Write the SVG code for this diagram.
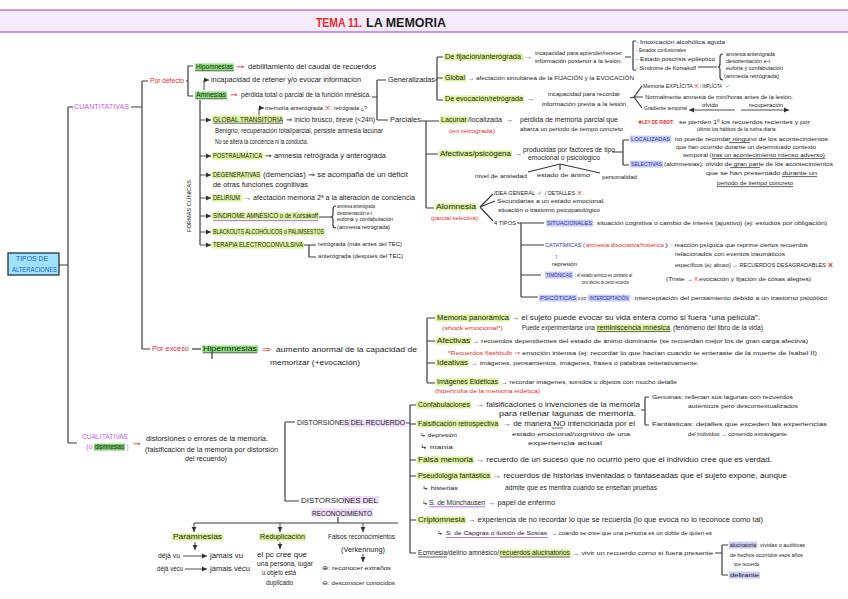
<svg xmlns="http://www.w3.org/2000/svg" width="848" height="599" viewBox="0 0 848 599">
<defs>
<marker id="ah" markerWidth="6" markerHeight="6" refX="5" refY="3" orient="auto" markerUnits="userSpaceOnUse"><path d="M0,0.6 L5,3 L0,5.4 Z" fill="#333"/></marker>
<style>
text{font-family:"Liberation Sans",Arial,sans-serif;font-size:6.5px;fill:#1b1b1b}
.sm{font-size:5.5px}
.xs{font-size:5px}
.md{font-size:7px}
.lg{font-size:8px}
.r{fill:#e62a2a}
.p{fill:#c25ef3}
.b{fill:#2a36a6}
.bl{fill:#2d5bd6}
.gr{fill:#2fae3a}
.ln{stroke:#3a3a3a;stroke-width:1.2;fill:none}
.ar{stroke:#3a3a3a;stroke-width:0.9;fill:none;marker-end:url(#ah)}
.hy{fill:#dcf59c}
.hg{fill:#8ee27d}
.hb{fill:#c8ccf6}
.hp{fill:#ecdaf8}
.ul{stroke:#222;stroke-width:0.7}
.up{stroke:#b36ef0;stroke-width:1}
</style>
</defs>
<rect x="0" y="0" width="848" height="599" fill="#ffffff"/>

<g id="connectors">
<path class="ln" d="M59 265H68M68 107V443M68 107H73M68 443H77"/>
<path class="ln" d="M131 107H142M142 81V349M142 81H148M142 349H150"/>
<path class="ln" d="M186 81H188M188 66V96M188 66H193M188 96H193"/>
<path class="ln" d="M192 349H201"/>
<path class="ln" d="M200 100V245"/>
<path class="ar" d="M200 120H211"/>
<path class="ar" d="M200 156H211"/>
<path class="ar" d="M200 175H211"/>
<path class="ar" d="M200 198H211"/>
<path class="ar" d="M200 216H211"/>
<path class="ar" d="M200 232H211"/>
<path class="ar" d="M200 245H211"/>
<path class="ar" d="M204 90V80H209"/>
<path class="ar" d="M259 116V108H264"/>
<path class="ln" d="M372 97H377M377 80V120M377 80H386M377 120H388"/>
<path class="ln" d="M435 80H437M437 57V100M437 57H443M437 78H443M437 100H443"/>
<path class="ln" d="M421 121H426M426 121V208M426 121H439M426 154H438M426 208H434"/>
<path class="ln" d="M625 57H631M633 41V70M633 41H636M633 70H636"/>
<path class="ln" d="M698 67H717M723 54Q720 54 720 57V64Q720 67 718 67Q720 67 720 70V77Q720 80 723 80"/>
<path class="ln" d="M630 98L634 97M634 97L642 86M634 97H643M634 97L642 108"/>
<path class="ar" d="M735 110H689"/>
<path class="ar" d="M741 110H789"/>
<path class="ln" d="M560 164L528 172M560 164V170M560 164L600 173"/>
<path class="ln" d="M612 152H623M623 140V165M623 140H629M623 165H629"/>
<path class="ln" d="M480 207L493 194M480 207L495 201M480 207L493 221"/>
<path class="ln" d="M517 223H544M521 223V297M521 245H544M521 275H541M521 297H538"/>
<path class="ln" d="M319 217H331M336 206Q333 206 333 209V214Q333 217 331 217Q333 217 333 220V225Q333 228 336 228"/>
<path class="ln" d="M304 245H316M309 245V257H316"/>
<path class="ln" d="M212 353V359"/>
<path class="ln" d="M427 318V383M427 318H435M427 341H435M427 363H435M427 383H435"/>
<path class="ln" d="M285 422V501M285 422H295M285 501H299"/>
<path class="ln" d="M405 423H410M410 405V553M410 405H416M410 424H416M410 460H416M410 476H416M410 520H416M410 553H416"/>
<path class="ln" d="M641 410H645M645 397V425M645 397H649M645 425H649"/>
<path class="ln" d="M715 553H722M722 545V575M722 545H728M722 575H728"/>
<path class="ln" d="M338 517V523M194 523H398"/>
<path class="ar" d="M194 523V532"/>
<path class="ar" d="M280 523V532"/>
<path class="ar" d="M363 523V532"/>
<path class="ar" d="M195 542V550"/>
<path class="ar" d="M280 542V549"/>
<path class="ar" d="M363 554V562"/>
<path class="ar" d="M183 556H207"/>
<path class="ar" d="M185 569H207"/>
</g>

<g id="title">
<rect x="0" y="10" width="848" height="22" fill="#f4ecfd"/>
<line x1="0" y1="10" x2="848" y2="10" stroke="#b774f2" stroke-width="1.6"/>
<line x1="0" y1="32" x2="848" y2="32" stroke="#b774f2" stroke-width="1.6"/>
<text x="316" y="27" class="r" style="font-size:13px;font-weight:bold" textLength="46" lengthAdjust="spacingAndGlyphs">TEMA 11.</text>
<text x="366" y="27" style="font-size:13px;font-weight:bold" textLength="80" lengthAdjust="spacingAndGlyphs">LA MEMORIA</text>
</g>

<g id="n-root">
<rect x="8" y="253" width="51" height="22" fill="#9fe2fd" stroke="#222" stroke-width="1.2"/>
<text x="16" y="261.4" class="bl" textLength="32" lengthAdjust="spacingAndGlyphs">TIPOS DE</text>
<text x="12" y="272.2" class="bl" textLength="45" lengthAdjust="spacingAndGlyphs">ALTERACIONES</text>
</g>

<g id="n-cuantitativas"><text x="74" y="109.2" class="p" textLength="55" lengthAdjust="spacingAndGlyphs">CUANTITATIVAS</text></g>
<g id="n-pordefecto"><text x="150" y="83.2" class="r" textLength="34" lengthAdjust="spacingAndGlyphs">Por defecto</text></g>
<g id="n-porexceso"><text x="152" y="351.2" class="r" textLength="37" lengthAdjust="spacingAndGlyphs">Por exceso</text></g>

<g id="n-hipomnesias">
<rect x="195" y="63.4" width="39" height="7.2" class="hg"/>
<line x1="195" y1="70.8" x2="234" y2="70.8" class="ul"/>
<text x="196" y="69.2" textLength="37" lengthAdjust="spacingAndGlyphs">Hipomnesias</text>
<text x="236" y="69.2" class="r" textLength="9" lengthAdjust="spacingAndGlyphs">⇒</text>
<text x="248" y="69.2" textLength="128" lengthAdjust="spacingAndGlyphs">debilitamiento del caudal de recuerdos</text>
</g>

<g id="n-amnesias">
<text x="211" y="82.2" textLength="150" lengthAdjust="spacingAndGlyphs">incapacidad de retener y/o evocar información</text>
<rect x="195" y="91.4" width="32" height="7.2" class="hg"/>
<line x1="195" y1="98.8" x2="227" y2="98.8" class="ul"/>
<text x="196" y="97.2" textLength="30" lengthAdjust="spacingAndGlyphs">Amnesias</text>
<text x="230" y="97.2" class="r" textLength="8" lengthAdjust="spacingAndGlyphs">⇒</text>
<text x="241" y="97.2" textLength="130" lengthAdjust="spacingAndGlyphs">pérdida total o parcial de la función mnésica.</text>
</g>

<g id="n-formas"><text x="189" y="208" transform="rotate(-90 189 206)" text-anchor="middle" class="sm" textLength="52" lengthAdjust="spacingAndGlyphs">FORMAS CLÍNICAS</text></g>

<g id="n-global-transitoria">
<text x="265" y="110.2" class="sm" textLength="58" lengthAdjust="spacingAndGlyphs">memoria anterógrada</text>
<text x="325" y="110.2" class="sm r" textLength="5" lengthAdjust="spacingAndGlyphs">X</text>
<text x="331" y="110.2" class="sm" textLength="36" lengthAdjust="spacingAndGlyphs">, retrógrada ¿?</text>
<rect x="212" y="115.4" width="71" height="7.2" class="hy"/>
<line x1="213" y1="123.2" x2="283" y2="123.2" class="ul"/>
<text x="213" y="122.2" textLength="70" lengthAdjust="spacingAndGlyphs">GLOBAL TRANSITORIA</text>
<text x="286" y="122.2" textLength="89" lengthAdjust="spacingAndGlyphs">⇒ inicio brusco, breve (&lt;24h)</text>
<text x="215" y="133.2" textLength="168" lengthAdjust="spacingAndGlyphs">Benigno, recuperación total/parcial, persiste amnesia lacunar</text>
<text x="215" y="144.2" textLength="93" lengthAdjust="spacingAndGlyphs">No se altera la conciencia ni la conducta.</text>
</g>

<g id="n-postraumatica">
<rect x="212" y="152.4" width="51" height="7.2" class="hy"/>
<text x="213" y="158.2" textLength="49" lengthAdjust="spacingAndGlyphs">POSTRAUMÁTICA</text>
<text x="265" y="158.2" textLength="121" lengthAdjust="spacingAndGlyphs">⇒ amnesia retrógrada y anterógrada</text>
</g>

<g id="n-degenerativas">
<rect x="212" y="171.4" width="49" height="7.2" class="hy"/>
<text x="213" y="177.2" textLength="47" lengthAdjust="spacingAndGlyphs">DEGENERATIVAS</text>
<text x="263" y="177.2" textLength="145" lengthAdjust="spacingAndGlyphs">(demencias) ⇒ se acompaña de un déficit</text>
<text x="213" y="187.2" textLength="95" lengthAdjust="spacingAndGlyphs">de otras funciones cognitivas</text>
</g>

<g id="n-delirium">
<rect x="212" y="194.4" width="30" height="7.2" class="hy"/>
<text x="213" y="200.2" textLength="27" lengthAdjust="spacingAndGlyphs">DELIRIUM</text>
<text x="244" y="200.2" textLength="171" lengthAdjust="spacingAndGlyphs">→ afectación memoria 2ª a la alteración de conciencia</text>
</g>

<g id="n-sindrome-amnesico">
<rect x="212" y="212.4" width="107" height="7.2" class="hy"/>
<line x1="213" y1="220.6" x2="318" y2="220.6" class="up"/>
<text x="213" y="218.2" textLength="105" lengthAdjust="spacingAndGlyphs">SÍNDROME AMNÉSICO o de Korsakoff</text>
<text x="337" y="207.7" class="xs" textLength="38" lengthAdjust="spacingAndGlyphs">amnesia anterógrada</text>
<text x="337" y="214.7" class="xs" textLength="35" lengthAdjust="spacingAndGlyphs">desorientación e-t</text>
<text x="337" y="221.2" class="xs" textLength="56" lengthAdjust="spacingAndGlyphs">euforia y confabulación</text>
<text x="337" y="229.2" class="xs" textLength="53" lengthAdjust="spacingAndGlyphs">(amnesia retrógrada)</text>
</g>

<g id="n-blackouts">
<rect x="212" y="228.4" width="113" height="7.2" class="hy"/>
<text x="213" y="234.2" textLength="111" lengthAdjust="spacingAndGlyphs">BLACKOUTS ALCOHÓLICOS o PALIMSESTOS</text>
</g>

<g id="n-terapia">
<rect x="212" y="241.4" width="92" height="7.2" class="hy"/>
<text x="213" y="247.2" textLength="90" lengthAdjust="spacingAndGlyphs">TERAPIA ELECTROCONVULSIVA</text>
<text x="318" y="246" class="sm" textLength="84" lengthAdjust="spacingAndGlyphs">retrógrada (más antes del TEC)</text>
<text x="318" y="258" class="sm" textLength="85" lengthAdjust="spacingAndGlyphs">anterógrada (después del TEC)</text>
</g>

<g id="n-generalizadas"><text x="388" y="82.2" textLength="47" lengthAdjust="spacingAndGlyphs">Generalizadas</text></g>
<g id="n-parciales"><text x="390" y="122.2" textLength="31" lengthAdjust="spacingAndGlyphs">Parciales</text></g>

<g id="n-fijacion">
<rect x="444" y="53.4" width="79" height="7.2" class="hy"/>
<text x="445" y="59.2" textLength="76" lengthAdjust="spacingAndGlyphs">De fijación/anterógrada</text>
<text x="525" y="59.2" textLength="7" lengthAdjust="spacingAndGlyphs">→</text>
<text x="535" y="54.9" class="sm" textLength="87" lengthAdjust="spacingAndGlyphs">incapacidad para aprender/retener</text>
<text x="535" y="62.9" class="sm" textLength="87" lengthAdjust="spacingAndGlyphs">información posterior a la lesión.</text>
<text x="636" y="43.9" class="sm" textLength="89" lengthAdjust="spacingAndGlyphs">- Intoxicación alcohólica aguda</text>
<text x="636" y="51.9" class="sm" textLength="50" lengthAdjust="spacingAndGlyphs">- Estados confusionales</text>
<text x="636" y="60.9" class="sm" textLength="79" lengthAdjust="spacingAndGlyphs">- Estado poscrisis epiléptico</text>
<text x="636" y="69.9" class="sm" textLength="60" lengthAdjust="spacingAndGlyphs">- Síndrome de Korsakoff</text>
<text x="726" y="55.7" class="xs" textLength="49" lengthAdjust="spacingAndGlyphs">amnesia anterógrada</text>
<text x="726" y="63.2" class="xs" textLength="44" lengthAdjust="spacingAndGlyphs">desorientación e-t</text>
<text x="726" y="70.2" class="xs" textLength="57" lengthAdjust="spacingAndGlyphs">euforia y confabulación</text>
<text x="724" y="77.7" class="xs" textLength="55" lengthAdjust="spacingAndGlyphs">(amnesia retrógrada)</text>
</g>

<g id="n-global">
<rect x="444" y="74.4" width="22" height="7.2" class="hy"/>
<text x="445" y="80.2" textLength="20" lengthAdjust="spacingAndGlyphs">Global</text>
<text x="468" y="80.2" class="sm" textLength="166" lengthAdjust="spacingAndGlyphs">→ afectación simultánea de la FIJACIÓN y la EVOCACIÓN</text>
</g>

<g id="n-evocacion">
<rect x="444" y="95.4" width="80" height="7.2" class="hy"/>
<text x="445" y="101.2" textLength="78" lengthAdjust="spacingAndGlyphs">De evocación/retrógrada</text>
<text x="527" y="101.2" textLength="7" lengthAdjust="spacingAndGlyphs">→</text>
<text x="548" y="96" class="sm" textLength="72" lengthAdjust="spacingAndGlyphs">incapacidad para recordar</text>
<text x="542" y="105.9" class="sm" textLength="86" lengthAdjust="spacingAndGlyphs">información previa a la lesión,</text>
<text x="643" y="87.5" class="sm" textLength="50" lengthAdjust="spacingAndGlyphs">Memoria EXPLÍCITA</text>
<text x="694" y="87.5" class="sm r" textLength="4.5" lengthAdjust="spacingAndGlyphs">X</text>
<text x="700" y="87.5" class="sm" textLength="22" lengthAdjust="spacingAndGlyphs">/ IMPLÍCITA</text>
<text x="725" y="87.5" class="xs gr" textLength="5" lengthAdjust="spacingAndGlyphs">✓</text>
<text x="645" y="98.9" class="sm" textLength="148" lengthAdjust="spacingAndGlyphs">Normalmente amnesia de min/horas antes de la lesión.</text>
<text x="644" y="109.9" class="sm" textLength="43" lengthAdjust="spacingAndGlyphs">Gradiente temporal</text>
<text x="702" y="107" class="sm" textLength="16" lengthAdjust="spacingAndGlyphs">olvido</text>
<text x="749" y="107" class="sm" textLength="34" lengthAdjust="spacingAndGlyphs">recuperación</text>
</g>

<g id="n-lacunar">
<rect x="440" y="116.4" width="28" height="7.2" class="hy"/>
<text x="441" y="122.2" textLength="26" lengthAdjust="spacingAndGlyphs">Lacunar</text>
<text x="468" y="122.2" textLength="34" lengthAdjust="spacingAndGlyphs">/localizada</text>
<text x="506" y="122.2" textLength="7" lengthAdjust="spacingAndGlyphs">→</text>
<text x="520" y="122.2" textLength="98" lengthAdjust="spacingAndGlyphs">pérdida de memoria parcial que</text>
<text x="520" y="131" class="sm" textLength="103" lengthAdjust="spacingAndGlyphs">abarca un periodo de tiempo concreto</text>
<text x="449" y="133" class="sm r" textLength="46" lengthAdjust="spacingAndGlyphs">(en retrógrada)</text>
<text x="638" y="124.2" class="sm r" style="font-weight:bold" textLength="36" lengthAdjust="spacingAndGlyphs">★LEY DE RIBOT:</text>
<text x="679" y="124" class="sm" textLength="131" lengthAdjust="spacingAndGlyphs">se pierden 1º los recuerdos recientes y por</text>
<text x="697" y="131" class="sm" textLength="80" lengthAdjust="spacingAndGlyphs">último los hábitos de la rutina diaria.</text>
</g>

<g id="n-afectivas-psicogena">
<rect x="439" y="150.4" width="73" height="7.2" class="hy"/>
<text x="440" y="156.2" textLength="71" lengthAdjust="spacingAndGlyphs">Afectivas/psicógena</text>
<text x="515" y="156" textLength="7" lengthAdjust="spacingAndGlyphs">→</text>
<text x="523" y="152.2" textLength="92" lengthAdjust="spacingAndGlyphs">producidas por factores de tipo</text>
<text x="528" y="160.2" textLength="72" lengthAdjust="spacingAndGlyphs">emocional o psicológico</text>
<text x="475" y="177.9" class="sm" textLength="52" lengthAdjust="spacingAndGlyphs">nivel de ansiedad</text>
<text x="537" y="177" class="sm" textLength="53" lengthAdjust="spacingAndGlyphs">estado de ánimo</text>
<text x="602" y="178.9" class="sm" textLength="35" lengthAdjust="spacingAndGlyphs">personalidad</text>
</g>

<g id="n-localizadas">
<rect x="630" y="135.6" width="41" height="7" class="hb"/>
<text x="631" y="141" class="sm b" textLength="39" lengthAdjust="spacingAndGlyphs">LOCALIZADAS</text>
<text x="671" y="141" class="sm" textLength="157" lengthAdjust="spacingAndGlyphs">: no puede recordar ninguno de los acontecimientos</text>
<line x1="729" y1="142.6" x2="750" y2="142.6" class="ul"/>
<text x="676" y="149" class="sm" textLength="140" lengthAdjust="spacingAndGlyphs">que han ocurrido durante un determinado contexto</text>
<text x="683" y="157" class="sm" textLength="142" lengthAdjust="spacingAndGlyphs">temporal (tras un acontecimiento intenso adverso)</text>
<line x1="712" y1="158.6" x2="825" y2="158.6" class="ul"/>
</g>

<g id="n-selectivas">
<rect x="630" y="160.6" width="33" height="7" class="hb"/>
<text x="631" y="166" class="sm b" textLength="31" lengthAdjust="spacingAndGlyphs">SELECTIVAS</text>
<text x="664" y="166" class="sm" textLength="169" lengthAdjust="spacingAndGlyphs">(alomnesias): olvido de gran parte de los acontecimientos</text>
<line x1="730" y1="167.6" x2="760" y2="167.6" class="ul"/>
<text x="706" y="175" class="sm" textLength="111" lengthAdjust="spacingAndGlyphs">que se han presentado durante un</text>
<line x1="782" y1="176.6" x2="817" y2="176.6" class="ul"/>
<text x="717" y="185" class="sm" textLength="76" lengthAdjust="spacingAndGlyphs">periodo de tiempo concreto</text>
<line x1="717" y1="186.6" x2="793" y2="186.6" class="ul"/>
</g>

<g id="n-alomnesia">
<rect x="435" y="203.4" width="42" height="7.2" class="hy"/>
<text x="436" y="209.2" textLength="40" lengthAdjust="spacingAndGlyphs">Alomnesia</text>
<text x="431" y="219.9" class="sm r" textLength="47" lengthAdjust="spacingAndGlyphs">(parcial selectiva)</text>
<text x="494" y="194.9" class="sm" textLength="41" lengthAdjust="spacingAndGlyphs">IDEA GENERAL</text>
<text x="537" y="194.9" class="sm gr" textLength="6" lengthAdjust="spacingAndGlyphs">✓</text>
<text x="545" y="194.9" class="sm" textLength="30" lengthAdjust="spacingAndGlyphs">/ DETALLES</text>
<text x="577" y="194.9" class="sm r" textLength="5" lengthAdjust="spacingAndGlyphs">X</text>
<text x="497" y="202.9" class="sm" textLength="108" lengthAdjust="spacingAndGlyphs">Secundarias a un estado emocional.</text>
<text x="498" y="211.9" class="sm" textLength="102" lengthAdjust="spacingAndGlyphs">situación o trastorno psicopatológico</text>
<text x="494" y="224.9" class="sm" textLength="22" lengthAdjust="spacingAndGlyphs">4 TIPOS</text>
</g>

<g id="n-situacionales">
<rect x="546" y="219.6" width="47" height="7" class="hb"/>
<text x="547" y="225" class="sm b" textLength="45" lengthAdjust="spacingAndGlyphs">SITUACIONALES</text>
<text x="593" y="225" class="sm" textLength="234" lengthAdjust="spacingAndGlyphs">: situación cognitiva o cambio de interés (ajustivo) (ej: estudios por obligación)</text>
</g>

<g id="n-catatimicas">
<text x="545" y="247" class="sm b" textLength="40" lengthAdjust="spacingAndGlyphs">CATATÍMICAS (</text>
<text x="586" y="247" class="sm r" textLength="78" lengthAdjust="spacingAndGlyphs">amnesia disociativa/histérica</text>
<text x="665" y="247" class="sm b" textLength="3" lengthAdjust="spacingAndGlyphs">)</text>
<text x="671" y="247" class="sm" textLength="137" lengthAdjust="spacingAndGlyphs">: reacción psíquica que reprime ciertos recuerdos</text>
<text x="675" y="256" class="sm" textLength="110" lengthAdjust="spacingAndGlyphs">relacionados con eventos traumáticos</text>
<text x="675" y="267" class="sm" textLength="151" lengthAdjust="spacingAndGlyphs">específicos (ej: abuso) → RECUERDOS DESAGRADABLES</text>
<text x="828" y="267" class="sm r" style="font-weight:bold" textLength="5" lengthAdjust="spacingAndGlyphs">X</text>
<text x="555" y="258" class="sm">↕</text>
<text x="552" y="266" class="xs" textLength="25" lengthAdjust="spacingAndGlyphs">represión</text>
</g>

<g id="n-timonicas">
<rect x="545" y="271.6" width="28" height="7" class="hb"/>
<text x="546" y="277" class="sm b" textLength="26" lengthAdjust="spacingAndGlyphs">TIMÓNICAS</text>
<text x="575" y="276.5" class="xs" textLength="57" lengthAdjust="spacingAndGlyphs">: el estado anímico es contrario al</text>
<text x="582" y="283.7" class="xs" textLength="48" lengthAdjust="spacingAndGlyphs">tono afectivo de ciertos recuerdos.</text>
<text x="666" y="281" class="sm" textLength="27" lengthAdjust="spacingAndGlyphs">(Triste →</text>
<text x="694" y="281" class="sm r" textLength="4" lengthAdjust="spacingAndGlyphs">X</text>
<text x="699" y="281" class="sm" textLength="112" lengthAdjust="spacingAndGlyphs">evocación y fijación de cosas alegres)</text>
</g>

<g id="n-psicoticas">
<rect x="539" y="294.6" width="38" height="7" class="hb"/>
<rect x="588" y="294.6" width="42" height="7" class="hb"/>
<text x="540" y="300" class="sm b" textLength="36" lengthAdjust="spacingAndGlyphs">PSICÓTICAS</text>
<text x="578" y="300" class="sm" textLength="8.5" lengthAdjust="spacingAndGlyphs">o por</text>
<text x="589.5" y="300" class="sm b" textLength="39" lengthAdjust="spacingAndGlyphs">INTERCEPTACIÓN</text>
<text x="631" y="300" class="sm" textLength="196" lengthAdjust="spacingAndGlyphs">: interceptación del pensamiento debido a un trastorno psicótico</text>
</g>

<g id="n-hipermnesias">
<rect x="202" y="345.4" width="56" height="7.2" class="hg"/>
<line x1="203" y1="352.8" x2="257" y2="352.8" class="ul"/>
<text x="203" y="351.2" textLength="54" lengthAdjust="spacingAndGlyphs">Hipermnesias</text>
<text x="262" y="351.8" class="lg r" textLength="9" lengthAdjust="spacingAndGlyphs">⇒</text>
<text x="276" y="351.8" class="lg" textLength="141" lengthAdjust="spacingAndGlyphs">aumento anormal de la capacidad de</text>
<text x="270" y="364.8" class="lg" textLength="90" lengthAdjust="spacingAndGlyphs">memorizar (+evocación)</text>
</g>

<g id="n-panoramica">
<rect x="436" y="314.4" width="74" height="7.2" class="hy"/>
<text x="437" y="320.2" textLength="72" lengthAdjust="spacingAndGlyphs">Memoria panorámica</text>
<text x="511" y="320.2" textLength="249" lengthAdjust="spacingAndGlyphs">→ el sujeto puede evocar su vida entera como si fuera “una película”.</text>
<text x="442" y="329.9" class="sm r" textLength="61" lengthAdjust="spacingAndGlyphs">(shock emocional*)</text>
<text x="522" y="330.2" textLength="73" lengthAdjust="spacingAndGlyphs">Puede experimentarse una</text>
<rect x="596" y="324.4" width="74" height="7.2" class="hy"/>
<line x1="597" y1="331.6" x2="670" y2="331.6" class="ul"/>
<text x="597" y="330.2" textLength="73" lengthAdjust="spacingAndGlyphs">reminiscencia mnésica</text>
<text x="673" y="330.2" textLength="90" lengthAdjust="spacingAndGlyphs">(fenómeno del libro de la vida)</text>
</g>

<g id="n-afectivas">
<rect x="436" y="337.4" width="35" height="7.2" class="hy"/>
<text x="437" y="343.2" textLength="33" lengthAdjust="spacingAndGlyphs">Afectivas</text>
<text x="472" y="343.2" class="sm" textLength="336" lengthAdjust="spacingAndGlyphs">→ recuerdos dependientes del estado de ánimo dominante (se recuerdan mejor los de gran carga afectiva)</text>
<text x="448" y="354.9" class="sm r" textLength="72" lengthAdjust="spacingAndGlyphs">*Recuerdos flashbulb ⇒</text>
<text x="522" y="354.9" class="sm" textLength="295" lengthAdjust="spacingAndGlyphs">emoción intensa (ej: recordar lo que hacían cuando te enteraste de la muerte de Isabel II)</text>
</g>

<g id="n-ideativas">
<rect x="436" y="359.4" width="33" height="7.2" class="hy"/>
<text x="437" y="365.2" textLength="31" lengthAdjust="spacingAndGlyphs">Ideativas</text>
<text x="471" y="365" class="sm" textLength="228" lengthAdjust="spacingAndGlyphs">→ imágenes, pensamientos, imágenes, frases o palabras reiterativamente.</text>
</g>

<g id="n-eideticas">
<rect x="436" y="378.4" width="63" height="7.2" class="hy"/>
<text x="437" y="384.2" textLength="61" lengthAdjust="spacingAndGlyphs">Imágenes Eidéticas</text>
<text x="501" y="384" class="sm" textLength="176" lengthAdjust="spacingAndGlyphs">→ recordar imágenes, sonidos u objetos con mucho detalle</text>
<text x="435" y="392.9" class="sm r" textLength="105" lengthAdjust="spacingAndGlyphs">(hipertrofia de la memoria eidética)</text>
</g>

<g id="n-cualitativas">
<text x="82" y="439.2" class="p" textLength="46" lengthAdjust="spacingAndGlyphs">CUALITATIVAS</text>
<rect x="94" y="443.6" width="31" height="7" fill="#7fd06e"/>
<text x="86" y="449" class="p" textLength="7" lengthAdjust="spacingAndGlyphs">(o</text>
<text x="95" y="449" textLength="29" lengthAdjust="spacingAndGlyphs">dismnesias</text>
<text x="126.5" y="449" class="p" textLength="2" lengthAdjust="spacingAndGlyphs">)</text>
<text x="133" y="445.5" class="r" textLength="8" lengthAdjust="spacingAndGlyphs">⇒</text>
<text x="146" y="441.2" textLength="122" lengthAdjust="spacingAndGlyphs">distorsiones o errores de la memoria.</text>
<text x="145" y="452.2" textLength="133" lengthAdjust="spacingAndGlyphs">(falsificación de la memoria por distorsión</text>
<text x="185" y="461.2" textLength="42" lengthAdjust="spacingAndGlyphs">del recuerdo)</text>
</g>

<g id="n-dist-recuerdo">
<rect x="343" y="419.4" width="63" height="7.4" class="hp"/>
<text x="297" y="425.4" class="md" textLength="108" lengthAdjust="spacingAndGlyphs">DISTORSIONES DEL RECUERDO</text>
</g>

<g id="n-dist-reconocimiento">
<rect x="343" y="496" width="36" height="8" class="hp"/>
<rect x="311" y="508.5" width="62" height="8" class="hp"/>
<text x="301" y="502.8" class="lg" textLength="77" lengthAdjust="spacingAndGlyphs">DISTORSIONES DEL</text>
<text x="312" y="515.6" class="lg" textLength="60" lengthAdjust="spacingAndGlyphs">RECONOCIMIENTO</text>
</g>

<g id="n-confabulaciones">
<rect x="417" y="401.4" width="54" height="7.2" class="hy"/>
<text x="418" y="407.2" textLength="52" lengthAdjust="spacingAndGlyphs">Confabulaciones</text>
<text x="476" y="407.2" textLength="164" lengthAdjust="spacingAndGlyphs">→ falsificaciones o invenciones de la memoria</text>
<text x="499" y="416.2" textLength="137" lengthAdjust="spacingAndGlyphs">para rellenar lagunas de memoria.</text>
<text x="652" y="398.9" class="sm" textLength="141" lengthAdjust="spacingAndGlyphs">Genuinas: rellenan sus lagunas con recuerdos</text>
<text x="688" y="407.9" class="sm" textLength="110" lengthAdjust="spacingAndGlyphs">auténticos pero descontextualizados</text>
<text x="652" y="425.9" class="sm" textLength="175" lengthAdjust="spacingAndGlyphs">Fantásticas: detalles que exceden las experiencias</text>
<text x="688" y="435.9" class="sm" textLength="99" lengthAdjust="spacingAndGlyphs">del individuo → contenido extravagante</text>
</g>

<g id="n-falsificacion">
<rect x="417" y="420.4" width="82" height="7.2" class="hy"/>
<text x="418" y="426.2" textLength="80" lengthAdjust="spacingAndGlyphs">Falsificación retrospectiva</text>
<text x="503" y="426.2" textLength="132" lengthAdjust="spacingAndGlyphs">→ de manera NO intencionada por el</text>
<line x1="552" y1="428" x2="563" y2="428" class="ul"/>
<text x="512" y="435.9" class="sm" textLength="118" lengthAdjust="spacingAndGlyphs">estado emocional/cognitivo de una</text>
<text x="528" y="444.9" class="sm" textLength="74" lengthAdjust="spacingAndGlyphs">experiencia actual</text>
<text x="420" y="437" class="sm" textLength="37" lengthAdjust="spacingAndGlyphs">↳ depresión</text>
<text x="420" y="449" class="sm" textLength="33" lengthAdjust="spacingAndGlyphs">↳ manía</text>
</g>

<g id="n-falsa-memoria">
<rect x="417" y="456.4" width="57" height="7.2" class="hy"/>
<text x="418" y="462.2" textLength="55" lengthAdjust="spacingAndGlyphs">Falsa memoria</text>
<text x="476" y="462.2" textLength="296" lengthAdjust="spacingAndGlyphs">→ recuerdo de un suceso que no ocurrió pero que el individuo cree que es verdad.</text>
</g>

<g id="n-pseudologia">
<rect x="417" y="472.4" width="74" height="7.2" class="hy"/>
<text x="418" y="478.2" textLength="72" lengthAdjust="spacingAndGlyphs">Pseudología fantástica</text>
<text x="493" y="478.2" textLength="294" lengthAdjust="spacingAndGlyphs">→ recuerdos de historias inventadas o fantaseadas que el sujeto expone, aunque</text>
<text x="505" y="490.2" textLength="152" lengthAdjust="spacingAndGlyphs">admite que es mentira cuando se enseñan pruebas</text>
<text x="422" y="490" class="sm" textLength="36" lengthAdjust="spacingAndGlyphs">↳ histerias</text>
<text x="422" y="505" class="sm" textLength="6" lengthAdjust="spacingAndGlyphs">↳</text>
<text x="429" y="505" textLength="56" lengthAdjust="spacingAndGlyphs">S. de Münchausen</text>
<line x1="429" y1="506.8" x2="485" y2="506.8" class="up"/>
<text x="488" y="505" textLength="67" lengthAdjust="spacingAndGlyphs">→ papel de enfermo</text>
</g>

<g id="n-criptomnesia">
<rect x="417" y="516.4" width="49" height="7.2" class="hy"/>
<text x="418" y="522.2" textLength="47" lengthAdjust="spacingAndGlyphs">Criptomnesia</text>
<text x="468" y="522.2" textLength="295" lengthAdjust="spacingAndGlyphs">→ experiencia de no recordar lo que se recuerda (lo que evoca no lo reconoce como tal)</text>
<text x="437" y="535" class="sm" textLength="6" lengthAdjust="spacingAndGlyphs">↳</text>
<text x="446" y="535" class="sm" textLength="101" lengthAdjust="spacingAndGlyphs">S. de Capgras o ilusión de Sosías</text>
<line x1="446" y1="537.6" x2="548" y2="537.6" class="up"/>
<text x="551" y="535" class="sm" textLength="161" lengthAdjust="spacingAndGlyphs">→ cuando se cree que una persona es un doble de quien es</text>
</g>

<g id="n-ecmnesia">
<text x="418" y="555.2" textLength="29" lengthAdjust="spacingAndGlyphs">Ecmnesia</text>
<line x1="418" y1="557" x2="447" y2="557" class="ul"/>
<text x="447" y="555.2" textLength="52" lengthAdjust="spacingAndGlyphs">/delirio amnésico/</text>
<rect x="499" y="549.4" width="72" height="7.2" class="hy"/>
<text x="500" y="555.2" textLength="70" lengthAdjust="spacingAndGlyphs">recuerdos alucinatorios</text>
<line x1="500" y1="557" x2="570" y2="557" class="ul"/>
<text x="572" y="555.2" class="sm" textLength="141" lengthAdjust="spacingAndGlyphs">→ vivir un recuerdo como si fuera presente</text>
<rect x="729" y="541.6" width="28" height="7" class="hb"/>
<text x="730" y="547" class="sm" textLength="26" lengthAdjust="spacingAndGlyphs">alucinatoria</text>
<text x="757" y="547" class="sm" textLength="48" lengthAdjust="spacingAndGlyphs">: vívidas o auditivas</text>
<text x="730" y="557" class="sm" textLength="73" lengthAdjust="spacingAndGlyphs">de hechos ocurridos esos años</text>
<text x="734" y="566" class="sm" textLength="26" lengthAdjust="spacingAndGlyphs">que recuerda.</text>
<rect x="729" y="571.6" width="31" height="7" class="hb"/>
<text x="730" y="577" class="sm" textLength="29" lengthAdjust="spacingAndGlyphs">delirante</text>
</g>

<g id="n-paramnesias">
<rect x="172" y="533.4" width="51" height="7.2" class="hy"/>
<text x="173" y="539.2" textLength="49" lengthAdjust="spacingAndGlyphs">Paramnesias</text>
<text x="158" y="558.2" textLength="22" lengthAdjust="spacingAndGlyphs">déjà vu</text>
<text x="210" y="558.2" textLength="33" lengthAdjust="spacingAndGlyphs">jamais vu</text>
<text x="157" y="571.2" textLength="26" lengthAdjust="spacingAndGlyphs">déjà vécu</text>
<text x="210" y="571.2" textLength="40" lengthAdjust="spacingAndGlyphs">jamais vécu</text>
</g>

<g id="n-reduplicacion">
<rect x="259" y="533.4" width="47" height="7.2" class="hy"/>
<text x="260" y="539.2" textLength="45" lengthAdjust="spacingAndGlyphs">Reduplicación</text>
<text x="257" y="557" textLength="50" lengthAdjust="spacingAndGlyphs">el pc cree que</text>
<text x="257" y="566" textLength="56" lengthAdjust="spacingAndGlyphs">una persona, lugar</text>
<text x="262" y="575" textLength="34" lengthAdjust="spacingAndGlyphs">u objeto está</text>
<text x="266" y="585" textLength="27" lengthAdjust="spacingAndGlyphs">duplicado</text>
</g>

<g id="n-falsos-reconocimientos">
<text x="328" y="539.2" textLength="67" lengthAdjust="spacingAndGlyphs">Falsos reconocimientos</text>
<text x="341" y="552.2" textLength="44" lengthAdjust="spacingAndGlyphs">(Verkennung)</text>
<text x="322" y="570.2" class="sm" textLength="69" lengthAdjust="spacingAndGlyphs">⊕: reconocer extraños</text>
<text x="322" y="585" class="sm" textLength="73" lengthAdjust="spacingAndGlyphs">⊖: desconocer conocidos</text>
</g>
</svg>
